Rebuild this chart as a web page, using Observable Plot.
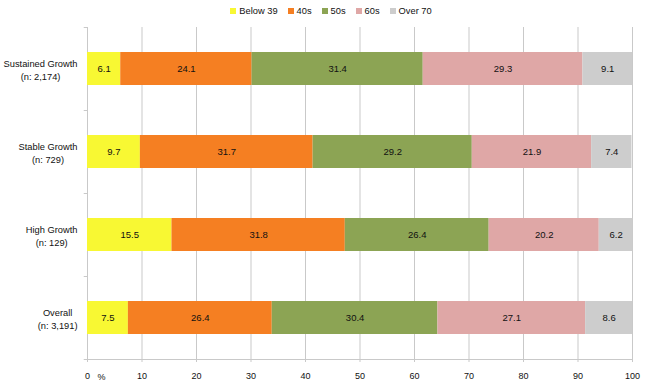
<!DOCTYPE html>
<html>
<head>
<meta charset="utf-8">
<script src="https://cdn.jsdelivr.net/npm/d3@7"></script>
<script src="https://cdn.jsdelivr.net/npm/@observablehq/plot@0.6"></script>
<style>
  body { margin: 0; background: #fff; font-family: "Liberation Sans", Arial, sans-serif; }
  #legend { height: 22px; display: flex; justify-content: center; align-items: center; gap: 10px; font-size: 9.3px; color: #111; padding-left: 12px; }
  #legend .item { display: flex; align-items: center; }
  #legend .sw { width: 6px; height: 6px; margin-right: 3px; }
</style>
</head>
<body>
<div id="legend"></div>
<div id="chart"></div>
<script>
const groups = ["Sustained Growth", "Stable Growth", "High Growth", "Overall"];
const groupN = ["2,174", "729", "129", "3,191"];
const ages = ["Below 39", "40s", "50s", "60s", "Over 70"];
const colors = ["#f8f833", "#f57f22", "#8ca454", "#dfa7a6", "#cdcdcd"];
const sustained = [6.1, 24.1, 31.4, 29.3, 9.1];
const stable = [9.7, 31.7, 29.2, 21.9, 7.4];
const high = [15.5, 31.8, 26.4, 20.2, 6.2];
const overall = [7.5, 26.4, 30.4, 27.1, 8.6];
const xTicks = [0, 10, 20, 30, 40, 50, 60, 70, 80, 90, 100];

const series = [sustained, stable, high, overall];
const data = [];
groups.forEach((g, i) => ages.forEach((a, j) => data.push({group: g, age: a, value: series[i][j]})));
const labelOf = Object.fromEntries(groups.map((g, i) => [g, `${g}\n(n: ${groupN[i]})`]));

// legend
const legend = document.getElementById("legend");
ages.forEach((a, j) => {
  const it = document.createElement("div");
  it.className = "item";
  it.innerHTML = `<span class="sw" style="background:${colors[j]}"></span><span>${a}</span>`;
  legend.appendChild(it);
});

const gridColor = "#c9c9c9";
const chart = Plot.plot({
  width: 650,
  height: 365,
  marginTop: 5,
  marginBottom: 28,
  marginLeft: 87,
  marginRight: 18,
  style: {fontFamily: "Liberation Sans, Arial, sans-serif", fontSize: "9.3px", color: "#111", background: "#fff"},
  x: {domain: [0, 100]},
  y: {domain: groups, paddingInner: 0.6, paddingOuter: 0.3, axis: null},
  color: {domain: ages, range: colors},
  marks: [
    Plot.ruleX(xTicks, {stroke: gridColor, strokeWidth: 1}),
    Plot.axisX({ticks: xTicks, tickSize: 3, tickPadding: 10, stroke: gridColor, fontSize: 9, fill: "#111", label: null}),
    Plot.frame({anchor: "bottom", stroke: gridColor}),
    Plot.ruleY(groups, {y: d => d, x1: -0.6, x2: 0, dy: -41.5, stroke: gridColor}),
    Plot.ruleY(groups.slice(-1), {y: d => d, x1: -0.6, x2: 0, dy: 41.5, stroke: gridColor}),
    Plot.barX(data, Plot.stackX({x: "value", y: "group", fill: "age"})),
    Plot.text(data, Plot.stackX({x: "value", y: "group", text: d => d.value.toFixed(1), fill: "#111", fontSize: 9.5})),
    Plot.text(groups, {y: d => d, text: d => labelOf[d], frameAnchor: "left", dx: -10, textAnchor: "end", lineHeight: 1.4, fill: "#111", className: "ylab"}),
    Plot.text(["%"], {frameAnchor: "bottom-left", dx: 10, dy: 20, text: d => d, fill: "#111", fontSize: 9})
  ]
});
document.getElementById("chart").appendChild(chart);

// center multi-line y labels relative to each other, right-aligned block
chart.querySelectorAll(".ylab text").forEach(t => {
  const spans = [...t.querySelectorAll("tspan")];
  if (!spans.length) return;
  const w = Math.max(...spans.map(s => s.getComputedTextLength()));
  t.setAttribute("text-anchor", "middle");
  spans.forEach(s => s.setAttribute("x", -w / 2));
});
</script>
</body>
</html>
